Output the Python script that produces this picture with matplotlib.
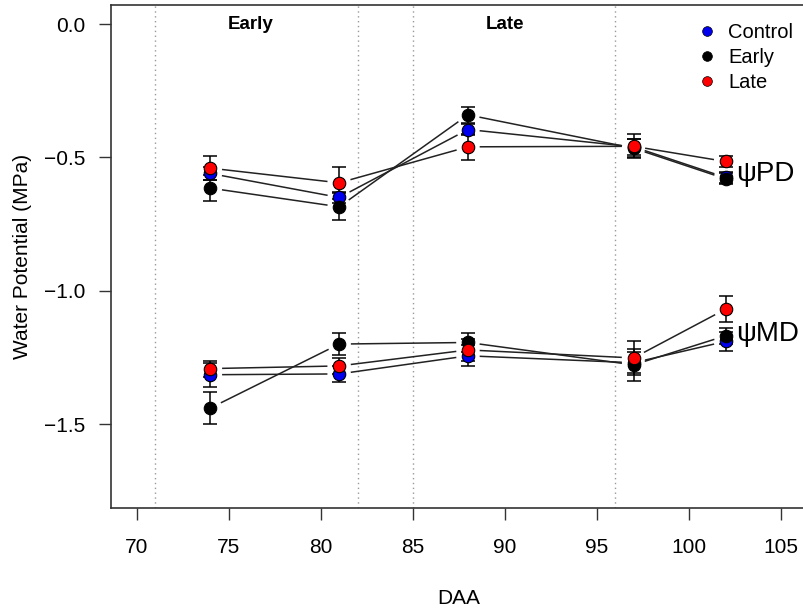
# Water potential (predawn and midday) vs DAA, three treatments

import numpy as np
import matplotlib.pyplot as plt
from matplotlib.lines import Line2D

plt.rcParams['font.family'] = ['Liberation Sans', 'DejaVu Sans']

# Data
daa = [74, 81, 88, 97, 102]
treatments = ['Control', 'Early', 'Late']
colors = ['#0000ee', 'black', '#ff0000']

pd_control = [-0.56, -0.65, -0.395, -0.46, -0.575]
pd_early = [-0.615, -0.685, -0.34, -0.465, -0.58]
pd_late = [-0.54, -0.595, -0.46, -0.458, -0.515]
pd_control_se = [0.025, 0.02, 0.02, 0.03, 0.02]
pd_early_se = [0.05, 0.05, 0.03, 0.035, 0.02]
pd_late_se = [0.045, 0.06, 0.05, 0.045, 0.02]

md_control = [-1.315, -1.312, -1.244, -1.27, -1.19]
md_early = [-1.44, -1.2, -1.194, -1.278, -1.169]
md_late = [-1.292, -1.282, -1.222, -1.252, -1.069]
md_control_se = [0.045, 0.03, 0.04, 0.04, 0.035]
md_early_se = [0.06, 0.04, 0.035, 0.06, 0.03]
md_late_se = [0.03, 0.03, 0.04, 0.065, 0.05]

period_lines = [71, 82, 85, 96]
period_labels = ['Early', 'Late']
period_label_x = [76.2, 90]

series = [
    (pd_control, pd_control_se, md_control, md_control_se),
    (pd_early, pd_early_se, md_early, md_early_se),
    (pd_late, pd_late_se, md_late, md_late_se),
]

fig = plt.figure(figsize=(8.04, 6.12), dpi=100)
ax = fig.add_axes([111/804, 1 - 508/612, 695.5/804, (508 - 5.3)/612])
ax.set_xlim(68.6, 106.4)
ax.set_ylim(-1.815, 0.071)


def gapped_segments(x, y, gap=12.5):
    # R type="b": lines stop short of each point
    pts = ax.transData.transform(np.column_stack([x, y]))
    inv = ax.transData.inverted()
    for p0, p1 in zip(pts[:-1], pts[1:]):
        d = p1 - p0
        n = np.hypot(*d)
        u = d / n
        a = inv.transform(p0 + u * gap)
        b = inv.transform(p1 - u * gap)
        ax.plot([a[0], b[0]], [a[1], b[1]], color='#222222', lw=1.1, zorder=2)


for xv in period_lines:
    ax.axvline(xv, color='#999999', ls=(0, (1, 2.5)), lw=1, zorder=1)

for lab, xv in zip(period_labels, period_label_x):
    ax.text(xv, 0.0, lab, ha='center', va='center', fontsize=13.5, fontweight='bold')

for (pdv, pdse, mdv, mdse), c in zip(series, colors):
    for vals, se in [(pdv, pdse), (mdv, mdse)]:
        gapped_segments(daa, vals)
        ax.errorbar(daa, vals, yerr=se, fmt='none', ecolor='black', elinewidth=1.1,
                    capsize=5, capthick=1.1, zorder=3)
        ax.plot(daa, vals, 'o', ms=9, mfc=c, mec='black', mew=0.8, zorder=4)

ax.text(102.55, -0.59, 'ψPD', fontsize=20, ha='left', va='baseline')
ax.text(102.55, -1.187, 'ψMD', fontsize=20, ha='left', va='baseline')

handles = [Line2D([], [], ls='none', marker='o', ms=7, mfc=c, mec='black', mew=0.5) for c in colors]
ax.legend(handles, treatments, loc='upper left', bbox_to_anchor=(100.6, 0.004),
          bbox_transform=ax.transData, frameon=False, fontsize=14.5,
          handlelength=0.7, handletextpad=0.7, labelspacing=0.3,
          borderpad=0, borderaxespad=0)

ax.set_xticks([70, 75, 80, 85, 90, 95, 100, 105])
ax.set_yticks([0.0, -0.5, -1.0, -1.5])
ax.set_yticklabels(['0.0', '\u22120.5', '\u22121.0', '\u22121.5'])
ax.tick_params(axis='both', labelsize=15, length=8.6, width=1, color='#333333')
ax.tick_params(axis='x', pad=13)
ax.tick_params(axis='y', pad=10)
for s in ax.spines.values():
    s.set_linewidth(1.2)
    s.set_color('#333333')

ax.set_xlabel('DAA', fontsize=15)
ax.xaxis.set_label_coords(0.5, -(598 - 508) / (508 - 5.3), transform=ax.transAxes)
ax.xaxis.label.set_va('center')
ax.set_ylabel('Water Potential (MPa)', fontsize=15)
ax.yaxis.set_label_coords((23 - 111) / 695.5, 0.5)
ax.yaxis.label.set_va('center')

fig.savefig('out.png', dpi=100)
